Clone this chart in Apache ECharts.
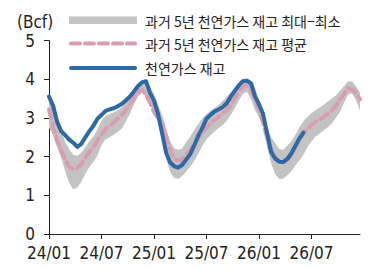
<!DOCTYPE html>
<html>
<head>
<meta charset="utf-8">
<script src="https://cdn.jsdelivr.net/npm/echarts@6/dist/echarts.min.js"></script>
<style>
  html, body { margin: 0; padding: 0; background: #fff; }
  #chart { width: 371px; height: 269px; }
</style>
</head>
<body>
<div id="chart"></div>
<script>
// 주 단위 (2024/01 첫 주 = 0), 2주 간격
const weeks = [0,2,4,6,8,10,12,14,16,18,20,22,24,26,28,30,32,34,36,38,40,42,44,46,48,50,52,54,56,58,
  60,62,64,66,68,70,72,74,76,78,80,82,84,86,88,90,92,94,96,98,100,102,104,106,108,110,112,114,116,118,
  120,122,124,126,128,130,132,134,136,138,140,142,144,146,148,150,152,154];
const tickLabels = ['24/01', '24/07', '25/01', '25/07', '26/01', '26/07'];

// 과거 5년 최대 / 최소
const bandMax = [3.5,3.25,2.95,2.7,2.38,2.2,2.05,2.02,2.1,2.25,
  2.4,2.52,2.7,2.92,3.05,3.1,3.14,3.2,3.27,3.4,
  3.58,3.75,3.88,3.97,3.97,3.82,3.62,3.35,3.08,2.72,
  2.4,2.22,2.18,2.22,2.38,2.52,2.7,2.85,3.0,3.1,
  3.18,3.26,3.34,3.44,3.55,3.66,3.78,3.9,4.0,4.02,
  3.96,3.78,3.45,3.25,2.8,2.5,2.35,2.2,2.18,2.28,
  2.4,2.56,2.76,2.92,3.03,3.13,3.2,3.27,3.34,3.42,
  3.5,3.58,3.7,3.82,3.94,3.95,3.82,3.66];
const bandMin = [2.75,2.55,2.25,1.98,1.62,1.32,1.15,1.2,1.35,1.56,
  1.73,1.86,2.03,2.3,2.45,2.5,2.56,2.64,2.72,2.9,
  3.1,3.35,3.55,3.66,3.55,3.38,3.15,2.95,2.65,1.95,
  1.6,1.45,1.42,1.5,1.62,1.74,1.9,2.08,2.28,2.45,
  2.55,2.65,2.74,2.82,2.92,3.08,3.25,3.45,3.62,3.68,
  3.5,3.2,3.02,2.8,2.25,1.82,1.54,1.42,1.43,1.52,
  1.62,1.78,1.9,2.05,2.25,2.4,2.52,2.6,2.68,2.76,
  2.85,3.0,3.15,3.38,3.6,3.64,3.46,3.2];
// 과거 5년 평균
const avg5y = [3.22,2.78,2.42,2.16,1.92,1.74,1.67,1.7,1.8,1.98,
  2.12,2.25,2.42,2.58,2.72,2.8,2.88,2.98,3.08,3.2,
  3.35,3.5,3.65,3.74,3.6,3.4,3.15,3.0,2.85,2.52,
  2.18,1.93,1.9,1.93,2.05,2.17,2.32,2.48,2.62,2.74,
  2.86,2.95,3.03,3.12,3.2,3.32,3.5,3.68,3.8,3.84,
  3.72,3.5,3.22,2.88,2.5,2.18,1.98,1.88,1.86,1.92,
  2.06,2.24,2.42,2.6,2.72,2.82,2.9,2.96,3.02,3.1,
  3.2,3.32,3.48,3.62,3.78,3.74,3.65,3.48];
// 천연가스 재고
const stock = [3.55,3.32,2.9,2.66,2.56,2.44,2.36,2.25,2.33,2.5,
  2.66,2.8,2.98,3.08,3.18,3.22,3.25,3.3,3.36,3.45,
  3.55,3.68,3.82,3.92,3.95,3.65,3.45,3.1,2.6,2.1,
  1.85,1.75,1.72,1.79,1.93,2.07,2.3,2.55,2.75,2.98,
  3.08,3.17,3.22,3.28,3.38,3.55,3.7,3.84,3.95,3.96,
  3.9,3.56,3.35,3.1,2.6,2.12,1.95,1.87,1.86,1.94,
  2.08,2.28,2.47,2.62];

const names = ['과거 5년 천연가스 재고 최대−최소', '과거 5년 천연가스 재고 평균', '천연가스 재고'];
const colors = { band: '#c3c3c3', avg: '#dc9cb0', stock: '#2b69a8', text: '#222' };
const labelFont = "'Liberation Sans Narrow', 'DejaVu Sans Condensed', sans-serif";
const krFont = "'Noto Sans CJK KR', sans-serif";

const chart = echarts.init(document.getElementById('chart'), null, { renderer: 'svg' });

const bandDiff = bandMax.map((v, i) => +(v - bandMin[i]).toFixed(2));
const showTick = (i) => i % 13 === 0;

chart.setOption({
    animation: false,
    grid: { left: 49, right: 11, top: 40.6, bottom: 35 },
    xAxis: {
        type: 'category',
        data: weeks,
        boundaryGap: false,
        axisLine: { lineStyle: { color: colors.text, width: 1 } },
        axisTick: { show: true, interval: showTick, length: 5, lineStyle: { color: colors.text } },
        axisLabel: {
            interval: showTick, margin: 10, fontSize: 17, color: colors.text, fontFamily: labelFont,
            formatter: (v, i) => tickLabels[i / 13] || ''
        },
        splitLine: { show: false }
    },
    yAxis: {
        type: 'value', min: 0, max: 5, interval: 1,
        axisLine: { show: true, lineStyle: { color: colors.text, width: 1 } },
        axisTick: { show: true, length: 5, lineStyle: { color: colors.text } },
        axisLabel: { margin: 14, fontSize: 17, color: colors.text, fontFamily: labelFont },
        splitLine: { show: false }
    },
    graphic: [
        { type: 'text', left: 17, top: 13, style: { text: '(Bcf)', fontSize: 17, fontFamily: labelFont, fill: colors.text } },
        { type: 'rect', shape: { x: 69, y: 16.5, width: 68, height: 7.5 }, style: { fill: colors.band } },
        { type: 'line', shape: { x1: 71, y1: 43.5, x2: 135, y2: 43.5 }, style: { stroke: colors.avg, lineWidth: 4, lineDash: [9, 5], lineCap: 'round' } },
        { type: 'line', shape: { x1: 71, y1: 68, x2: 135, y2: 68 }, style: { stroke: colors.stock, lineWidth: 4, lineCap: 'round' } },
        { type: 'text', x: 145, y: 20.5, style: { text: names[0], fontSize: 14, fontFamily: krFont, fill: colors.text, verticalAlign: 'middle' } },
        { type: 'text', x: 145, y: 44, style: { text: names[1], fontSize: 14, fontFamily: krFont, fill: colors.text, verticalAlign: 'middle' } },
        { type: 'text', x: 145, y: 68, style: { text: names[2], fontSize: 14, fontFamily: krFont, fill: colors.text, verticalAlign: 'middle' } }
    ],
    series: [
        {
            name: 'bandBase', type: 'line', stack: 'band', data: bandMin, symbol: 'none', silent: true,
            lineStyle: { opacity: 0 }
        },
        {
            name: names[0], type: 'line', stack: 'band', data: bandDiff, symbol: 'none', silent: true,
            lineStyle: { opacity: 0 }, areaStyle: { color: colors.band, opacity: 1 }
        },
        {
            name: names[1], type: 'line', data: avg5y, symbol: 'none',
            lineStyle: { color: colors.avg, width: 4, type: [9, 5], cap: 'round' }
        },
        {
            name: names[2], type: 'line', data: stock, symbol: 'none',
            lineStyle: { color: colors.stock, width: 4, cap: 'round', join: 'round' }
        }
    ]
});
</script>
</body>
</html>
